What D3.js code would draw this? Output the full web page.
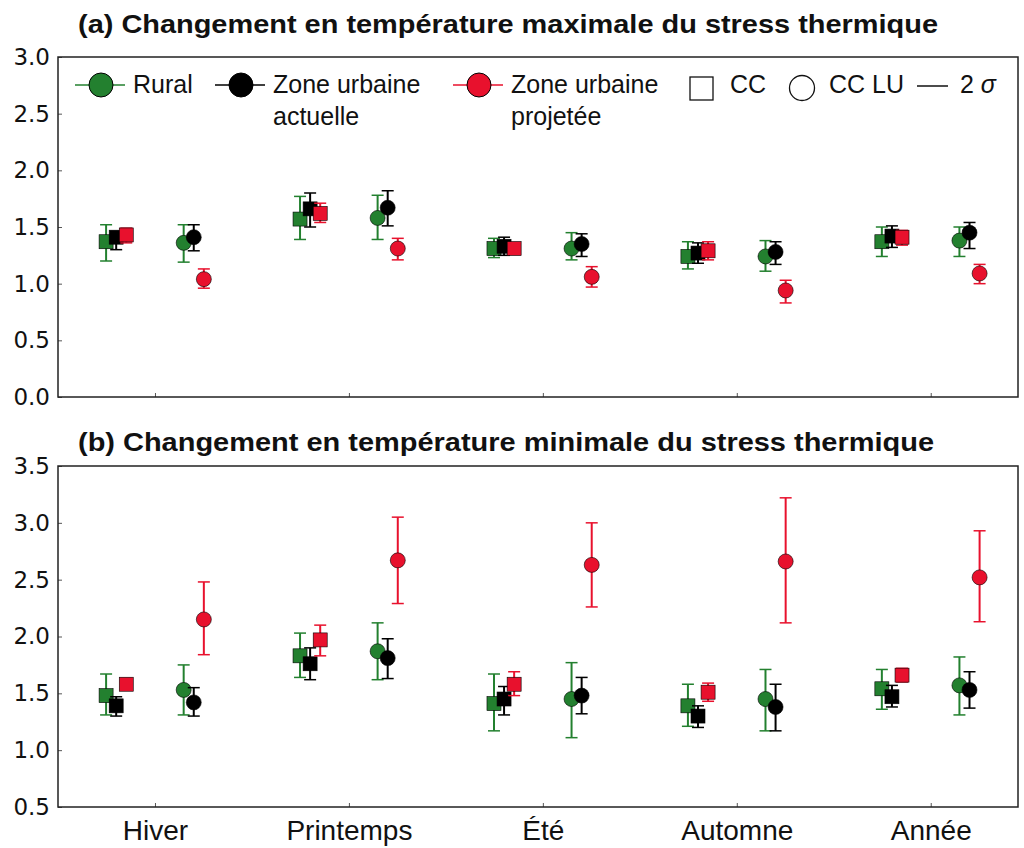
<!DOCTYPE html>
<html>
<head>
<meta charset="utf-8">
<script src="https://cdn.jsdelivr.net/npm/d3@7"></script>
<style>
  body { margin: 0; background: #fff; }
  text { fill: #111; }
</style>
</head>
<body>
<div id="graph"></div>
<script>
var width = 1024, height = 848

var seasons = ['Hiver', 'Printemps', 'Été', 'Automne', 'Année']
var seriesNames = ['Rural', 'Zone urbaine actuelle', 'Zone urbaine projetée']
var colors = ['#23802f', '#000000', '#e8112d']

// (a) max temperature change, CC (squares)
var aCCRural = [1.37, 1.57, 1.31, 1.24, 1.37]
var aCCRuralLo = [1.20, 1.39, 1.23, 1.13, 1.24]
var aCCRuralHi = [1.52, 1.77, 1.40, 1.37, 1.50]
var aCCAct = [1.41, 1.66, 1.33, 1.27, 1.42]
var aCCActLo = [1.30, 1.50, 1.25, 1.18, 1.32]
var aCCActHi = [1.46, 1.80, 1.41, 1.36, 1.51]
var aCCProj = [1.43, 1.62, 1.31, 1.29, 1.41]
var aCCProjLo = [1.36, 1.54, 1.26, 1.21, 1.34]
var aCCProjHi = [1.49, 1.71, 1.36, 1.37, 1.47]
// (a) CC LU (circles)
var aLURural = [1.36, 1.58, 1.31, 1.24, 1.38]
var aLURuralLo = [1.19, 1.39, 1.21, 1.11, 1.24]
var aLURuralHi = [1.52, 1.78, 1.45, 1.38, 1.50]
var aLUAct = [1.41, 1.67, 1.35, 1.28, 1.45]
var aLUActLo = [1.29, 1.51, 1.24, 1.17, 1.31]
var aLUActHi = [1.52, 1.82, 1.44, 1.37, 1.54]
var aLUProj = [1.04, 1.31, 1.06, 0.94, 1.09]
var aLUProjLo = [0.96, 1.21, 0.97, 0.83, 1.00]
var aLUProjHi = [1.13, 1.40, 1.15, 1.03, 1.17]

// (b) min temperature change, CC (squares)
var bCCRural = [1.48, 1.83, 1.41, 1.39, 1.54]
var bCCRuralLo = [1.31, 1.64, 1.17, 1.21, 1.36]
var bCCRuralHi = [1.67, 2.03, 1.67, 1.58, 1.71]
var bCCAct = [1.39, 1.76, 1.45, 1.30, 1.47]
var bCCActLo = [1.30, 1.62, 1.31, 1.20, 1.38]
var bCCActHi = [1.47, 1.90, 1.56, 1.39, 1.57]
var bCCProj = [1.58, 1.97, 1.58, 1.51, 1.66]
var bCCProjLo = [1.53, 1.83, 1.48, 1.43, 1.60]
var bCCProjHi = [1.63, 2.10, 1.69, 1.59, 1.72]
// (b) CC LU (circles)
var bLURural = [1.53, 1.87, 1.45, 1.45, 1.57]
var bLURuralLo = [1.31, 1.62, 1.11, 1.17, 1.31]
var bLURuralHi = [1.75, 2.12, 1.77, 1.71, 1.82]
var bLUAct = [1.42, 1.81, 1.48, 1.38, 1.53]
var bLUActLo = [1.30, 1.63, 1.32, 1.17, 1.37]
var bLUActHi = [1.55, 1.98, 1.64, 1.58, 1.69]
var bLUProj = [2.15, 2.67, 2.63, 2.66, 2.52]
var bLUProjLo = [1.84, 2.29, 2.26, 2.12, 2.13]
var bLUProjHi = [2.48, 3.05, 3.00, 3.22, 2.93]

var aTicks = [0, 0.5, 1, 1.5, 2, 2.5, 3]
var bTicks = [0.5, 1, 1.5, 2, 2.5, 3, 3.5]

function pack(vals, lo, hi){
  return vals.map(function(v, i){ return {i: i, v: v, lo: lo[i], hi: hi[i]} })
}

var panels = [
  {
    title: '(a) Changement en température maximale du stress thermique',
    titleY: 33, top: 57, bottom: 397, domain: [0, 3], ticks: aTicks, xlabels: false,
    cc: [pack(aCCRural, aCCRuralLo, aCCRuralHi), pack(aCCAct, aCCActLo, aCCActHi), pack(aCCProj, aCCProjLo, aCCProjHi)],
    lu: [pack(aLURural, aLURuralLo, aLURuralHi), pack(aLUAct, aLUActLo, aLUActHi), pack(aLUProj, aLUProjLo, aLUProjHi)]
  },
  {
    title: '(b) Changement en température minimale du stress thermique',
    titleY: 451, top: 466, bottom: 807, domain: [0.5, 3.5], ticks: bTicks, xlabels: true,
    cc: [pack(bCCRural, bCCRuralLo, bCCRuralHi), pack(bCCAct, bCCActLo, bCCActHi), pack(bCCProj, bCCProjLo, bCCProjHi)],
    lu: [pack(bLURural, bLURuralLo, bLURuralHi), pack(bLUAct, bLUActLo, bLUActHi), pack(bLUProj, bLUProjLo, bLUProjHi)]
  }
]

var left = 58, right = 1018
var x = d3.scaleLinear().domain([-0.5, 4.45]).range([left, right])
var groupOff = 0.2, seriesOff = 0.052

var svg = d3.select('#graph').append('svg')
    .attr('width', width).attr('height', height)
    .style('font-family', '"Liberation Sans", Arial, sans-serif')

svg.append('rect').attr('width', width).attr('height', height).attr('fill', '#fff')

panels.forEach(function(p, pi){
  var y = d3.scaleLinear().domain(p.domain).range([p.bottom, p.top])
  var g = svg.append('g')

  g.append('text')
      .attr('x', 78).attr('y', p.titleY)
      .attr('textLength', pi ? 856 : 860).attr('lengthAdjust', 'spacingAndGlyphs')
      .style('font-size', '25px').style('font-weight', 'bold')
      .text(p.title)

  // y axis
  var yAxis = d3.axisLeft(y).tickValues(p.ticks).tickFormat(d3.format('.1f'))
      .tickSizeInner(-4).tickSizeOuter(0).tickPadding(8)
  var ya = g.append('g').attr('transform', 'translate(' + left + ',0)').call(yAxis)
  ya.select('.domain').remove()
  ya.selectAll('line').attr('stroke', '#555')
  ya.selectAll('text')
      .style('font-family', '"DejaVu Sans", sans-serif')
      .style('font-size', '23px').attr('fill', '#222')

  var xAxis = d3.axisBottom(x).tickValues(d3.range(seasons.length))
      .tickFormat(function(d){ return p.xlabels ? seasons[d] : '' })
      .tickSizeInner(-4).tickSizeOuter(0).tickPadding(13)
  var xa = g.append('g').attr('transform', 'translate(0,' + p.bottom + ')').call(xAxis)
  xa.select('.domain').remove()
  xa.selectAll('line').attr('stroke', '#555')
  xa.selectAll('text').style('font-size', '28px').attr('fill', '#111')

  // markers
  ;[['cc', -groupOff], ['lu', groupOff]].forEach(function(sc){
    p[sc[0]].forEach(function(ser, si){
      var col = colors[si]
      var sg = g.append('g')
      var px = function(d){ return x(d.i + sc[1] + (si - 1) * seriesOff) }

      sg.selectAll('line.err').data(ser).enter().append('line')
          .attr('x1', px).attr('x2', px)
          .attr('y1', function(d){ return y(d.lo) })
          .attr('y2', function(d){ return y(d.hi) })
          .attr('stroke', col).attr('stroke-width', 2)

      ;['lo', 'hi'].forEach(function(k){
        sg.selectAll('line.cap' + k).data(ser).enter().append('line')
            .attr('x1', function(d){ return px(d) - 6 })
            .attr('x2', function(d){ return px(d) + 6 })
            .attr('y1', function(d){ return y(d[k]) })
            .attr('y2', function(d){ return y(d[k]) })
            .attr('stroke', col).attr('stroke-width', 1.5)
      })

      if (sc[0] == 'cc'){
        sg.selectAll('rect').data(ser).enter().append('rect')
            .attr('x', function(d){ return px(d) - 7 })
            .attr('y', function(d){ return y(d.v) - 7 })
            .attr('width', 14).attr('height', 14)
            .attr('fill', col).attr('stroke', '#000').attr('stroke-width', 0.6)
      } else {
        sg.selectAll('circle').data(ser).enter().append('circle')
            .attr('cx', px).attr('cy', function(d){ return y(d.v) })
            .attr('r', 7.5)
            .attr('fill', col).attr('stroke', '#000').attr('stroke-width', 0.6)
      }
    })
  })

  // frame
  g.append('rect')
      .attr('x', left).attr('y', p.top)
      .attr('width', right - left).attr('height', p.bottom - p.top)
      .attr('fill', 'none').attr('stroke', '#222').attr('stroke-width', 1.5)
})

// legend
var lg = svg.append('g').style('font-size', '25px')
var legendX = [75, 215, 453]
seriesNames.forEach(function(name, i){
  var lx = legendX[i]
  lg.append('line')
      .attr('x1', lx).attr('x2', lx + 50).attr('y1', 85).attr('y2', 85)
      .attr('stroke', colors[i]).attr('stroke-width', 1.5)
  lg.append('circle')
      .attr('cx', lx + 26).attr('cy', 85).attr('r', 12)
      .attr('fill', colors[i]).attr('stroke', '#000').attr('stroke-width', 1)
  var words = i == 0 ? [name] : ['Zone urbaine', name.replace('Zone urbaine ', '')]
  words.forEach(function(w, j){
    lg.append('text').attr('x', lx + 58).attr('y', 93 + j * 32).text(w)
  })
})
lg.append('rect').attr('x', 690).attr('y', 77).attr('width', 23).attr('height', 23)
    .attr('fill', 'none').attr('stroke', '#111').attr('stroke-width', 1.3)
lg.append('text').attr('x', 730).attr('y', 93).text('CC')
lg.append('circle').attr('cx', 802).attr('cy', 88).attr('r', 12.5)
    .attr('fill', 'none').attr('stroke', '#111').attr('stroke-width', 1.3)
lg.append('text').attr('x', 829).attr('y', 93).text('CC LU')
lg.append('line').attr('x1', 917).attr('x2', 948).attr('y1', 86).attr('y2', 86)
    .attr('stroke', '#111').attr('stroke-width', 1.5)
var sig = lg.append('text').attr('x', 960).attr('y', 93)
sig.append('tspan').text('2 ')
sig.append('tspan').style('font-style', 'italic').text('σ')
</script>
</body>
</html>
